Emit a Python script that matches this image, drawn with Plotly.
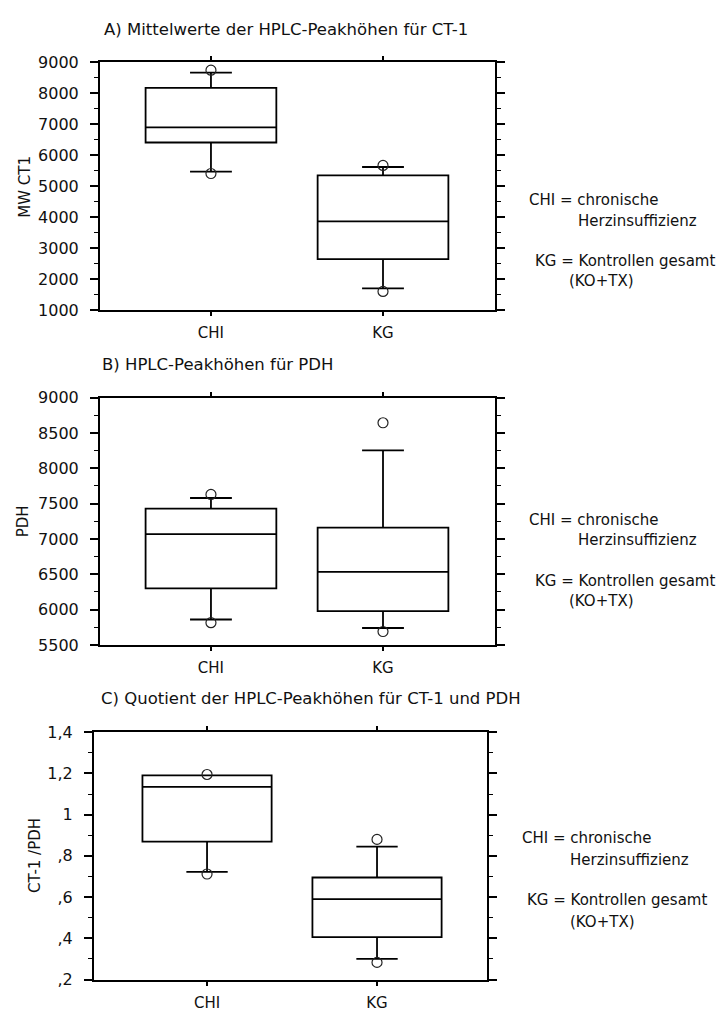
import plotly.graph_objects as go

# ---------------- data ----------------
groups = ["CHI", "KG"]

# Panel A: MW CT1
a_q1 = [6410, 2650]
a_med = [6900, 3870]
a_q3 = [8170, 5350]
a_lo = [5470, 1710]
a_hi = [8660, 5620]
a_pts_x = ["CHI", "CHI", "KG", "KG"]
a_pts_y = [8740, 5410, 5670, 1610]

# Panel B: PDH
b_q1 = [6300, 5980]
b_med = [7070, 6535]
b_q3 = [7430, 7160]
b_lo = [5860, 5740]
b_hi = [7580, 8255]
b_pts_x = ["CHI", "CHI", "KG", "KG"]
b_pts_y = [7630, 5815, 8645, 5690]

# Panel C: CT-1/PDH
c_q1 = [0.869, 0.406]
c_med = [1.135, 0.590]
c_q3 = [1.191, 0.695]
c_lo = [0.722, 0.300]
c_hi = [1.191, 0.845]
c_pts_x = ["CHI", "CHI", "KG", "KG"]
c_pts_y = [1.195, 0.712, 0.880, 0.283]

c_tickvals = [0.2, 0.4, 0.6, 0.8, 1.0, 1.2, 1.4]
c_ticktext = [",2", ",4", ",6", ",8", "1", "1,2", "1,4"]

titles = ["A) Mittelwerte der HPLC-Peakhöhen für CT-1",
          "B) HPLC-Peakhöhen für PDH",
          "C) Quotient der HPLC-Peakhöhen für CT-1 und PDH"]
ylabels = ["MW CT1", "PDH", "CT-1 /PDH"]
legend_lines = ["CHI = chronische", "Herzinsuffizienz",
                "KG = Kontrollen gesamt", "(KO+TX)"]

# ---------------- figure ----------------
OFF = 8  # default page body margin
FW, FH = 726 - OFF, 1016 - OFF
FONT = "DejaVu Sans"
TXT = "#111111"


def fx(xs):
    return (xs - OFF) / FW


def fy(ys):
    return 1 - (ys - OFF) / FH


fig = go.Figure()

panels = [
    (a_q1, a_med, a_q3, a_lo, a_hi, a_pts_x, a_pts_y),
    (b_q1, b_med, b_q3, b_lo, b_hi, b_pts_x, b_pts_y),
    (c_q1, c_med, c_q3, c_lo, c_hi, c_pts_x, c_pts_y),
]

for i, (q1, med, q3, lo, hi, px, py) in enumerate(panels):
    xa = "x" if i == 0 else f"x{i+1}"
    ya = "y" if i == 0 else f"y{i+1}"
    fig.add_trace(go.Box(
        x=groups, q1=q1, median=med, q3=q3, lowerfence=lo, upperfence=hi,
        width=0.76, whiskerwidth=0.32, fillcolor="white",
        line=dict(color="black", width=1.8), boxpoints=False,
        xaxis=xa, yaxis=ya, showlegend=False, hoverinfo="skip"))
    fig.add_trace(go.Scatter(
        x=px, y=py, mode="markers",
        marker=dict(symbol="circle-open", size=10, color="#222222",
                    line=dict(width=1.2)),
        xaxis=xa, yaxis=ya, showlegend=False, hoverinfo="skip"))

# plot frames in screen pixels: (left, right, top, bottom)
frames = [(100, 495, 54, 307), (100, 495, 396, 648), (94, 487, 737, 989)]
xranges = [[-0.645, 1.651], [-0.645, 1.651], [-0.665, 1.647]]
yranges = [[1000, 9000], [5500, 9000], [0.2, 1.4]]
ydticks = [1000, 500, 0.2]
yminor = [500, 250, 0.1]

layout = dict(
    width=FW, height=FH, margin=dict(l=0, r=0, t=0, b=0),
    paper_bgcolor="white", plot_bgcolor="white",
    font=dict(family=FONT, color=TXT, size=15),
)

for i, (l, r, t, b) in enumerate(frames):
    xk = "xaxis" if i == 0 else f"xaxis{i+1}"
    yk = "yaxis" if i == 0 else f"yaxis{i+1}"
    ya = "y" if i == 0 else f"y{i+1}"
    xa = "x" if i == 0 else f"x{i+1}"
    layout[xk] = dict(
        domain=[fx(l), fx(r)], anchor=ya, type="category",
        categoryorder="array", categoryarray=groups,
        range=xranges[i], showline=True, linecolor="black", linewidth=2,
        mirror="ticks", ticks="outside", ticklen=4, tickwidth=1.5,
        tickcolor="black", showgrid=False, zeroline=False,
        tickfont=dict(family=FONT, size=15, color=TXT),
        ticklabelstandoff=4,
    )
    yd = dict(
        domain=[fy(b), fy(t)], anchor=xa,
        range=yranges[i], showline=True, linecolor="black", linewidth=2,
        mirror="ticks", ticks="outside", ticklen=8, tickwidth=1.5,
        tickcolor="black", showgrid=False, zeroline=False,
        dtick=ydticks[i], tick0=yranges[i][0],
        minor=dict(ticks="outside", ticklen=4, tickwidth=1.2,
                   tickcolor="black", dtick=yminor[i], showgrid=False),
        tickfont=dict(family=FONT, size=16, color=TXT),
        ticklabelstandoff=8,
    )
    if i == 2:
        yd.update(tickmode="array", tickvals=c_tickvals, ticktext=c_ticktext)
        yd.pop("dtick")
        yd.pop("tick0")
    layout[yk] = yd

fig.update_layout(**layout)

# titles
title_pos = [(102, 21), (100, 362), (99, 703)]
for (x, y), t in zip(title_pos, titles):
    fig.add_annotation(text=t, x=fx(x), y=fy(y), xref="paper", yref="paper",
                       xanchor="left", yanchor="middle", showarrow=False,
                       font=dict(family=FONT, size=16.5, color=TXT))

# y-axis labels
ylab_pos = [(25, 181), (23, 522), (35, 863)]
for (x, y), t in zip(ylab_pos, ylabels):
    fig.add_annotation(text=t, x=fx(x), y=fy(y), xref="paper", yref="paper",
                       xanchor="center", yanchor="middle", textangle=-90,
                       showarrow=False, font=dict(family=FONT, size=15, color=TXT))

# side legends
leg_sets = [
    [(527, 195), (576, 216), (533, 257), (567, 277)],
    [(527, 521), (576, 541), (533, 583), (567, 603)],
    [(520, 845), (568, 867), (525, 908), (568, 930)],
]
for pos in leg_sets:
    for (x, y), t in zip(pos, legend_lines):
        fig.add_annotation(text=t, x=fx(x), y=fy(y), xref="paper", yref="paper",
                           xanchor="left", yanchor="middle", showarrow=False,
                           font=dict(family=FONT, size=15, color=TXT))

fig.write_html("out.html")
